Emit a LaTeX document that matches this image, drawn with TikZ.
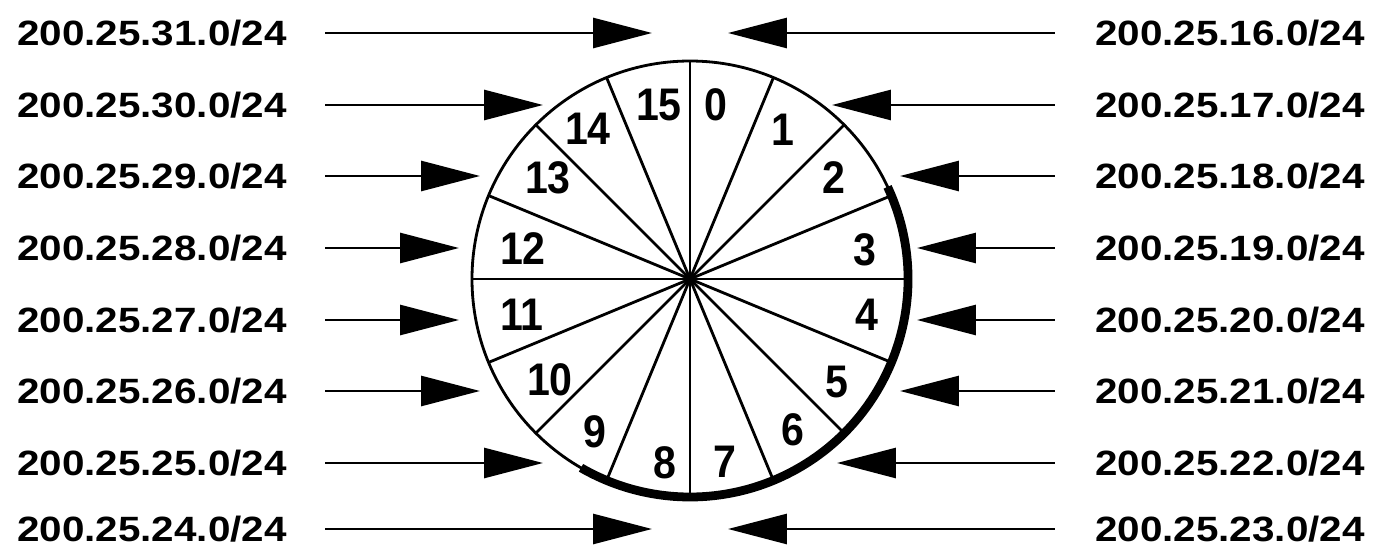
\documentclass[tikz,border=0pt]{standalone}
\usepackage{fontspec}
\usetikzlibrary{arrows.meta}
\newfontfamily\netfont[FakeStretch=1.15]{Liberation Sans}
\newfontfamily\slotfont[FakeStretch=0.9]{Liberation Sans}

\begin{document}
\begin{tikzpicture}[x=0.02cm, y=0.02cm,
    net/.style={font=\netfont\bfseries\fontsize{20}{20}\selectfont, inner sep=0pt},
    slot/.style={font=\slotfont\bfseries\fontsize{26}{26}\selectfont, inner sep=0pt},
    rim/.style={line width=1.6pt},
    feed/.style={line width=1.6pt, -{Triangle[length=1.18cm, width=0.6cm]}}]
        \useasboundingbox (0,0) rectangle (1374,549);
        % the 16 slots
        \coordinate (c) at (690,270);
        \draw[rim] (c) circle (218);
        \foreach \a in {0,22.5,...,337.5}
          \draw[rim] (c) -- ++(\a:218);
        \draw[line width=5pt] (c) ++(25:218) arc[start angle=25, end angle=-120, radius=218];
        \foreach \n/\x/\y in {0/716/444, 1/783/419, 2/834/371, 3/865/299,
            4/867/234, 5/837/167, 6/793/119, 7/725/87, 8/665/86, 9/595/117,
            10/550/169, 11/522/234, 12/523/300, 13/548/371, 14/588/420, 15/659/444}
          \node[slot] (s\n) at (\x,\y) {\n};
        % networks on both sides
        \foreach \i/\y/\l/\lt/\r/\rt in {0/516/31/652/16/728, 1/444/30/543/17/832,
            2/373/29/480/18/900, 3/301/28/459/19/917, 4/229/27/459/20/917,
            5/158/26/480/21/900, 6/86/25/543/22/837, 7/20/24/652/23/728} {
          \node[net] (l\i) at (152,\y) {200.25.\l.0/24};
          \node[net] (r\i) at (1230,\y) {200.25.\r.0/24};
          \coordinate (lt\i) at (\lt,\y);
          \coordinate (rt\i) at (\rt,\y);
          \draw[feed, shorten <=0.76cm] (l\i.east) -- (lt\i);
          \draw[feed, shorten <=0.8cm] (r\i.west) -- (rt\i);
        }
      \end{tikzpicture}
\end{document}
